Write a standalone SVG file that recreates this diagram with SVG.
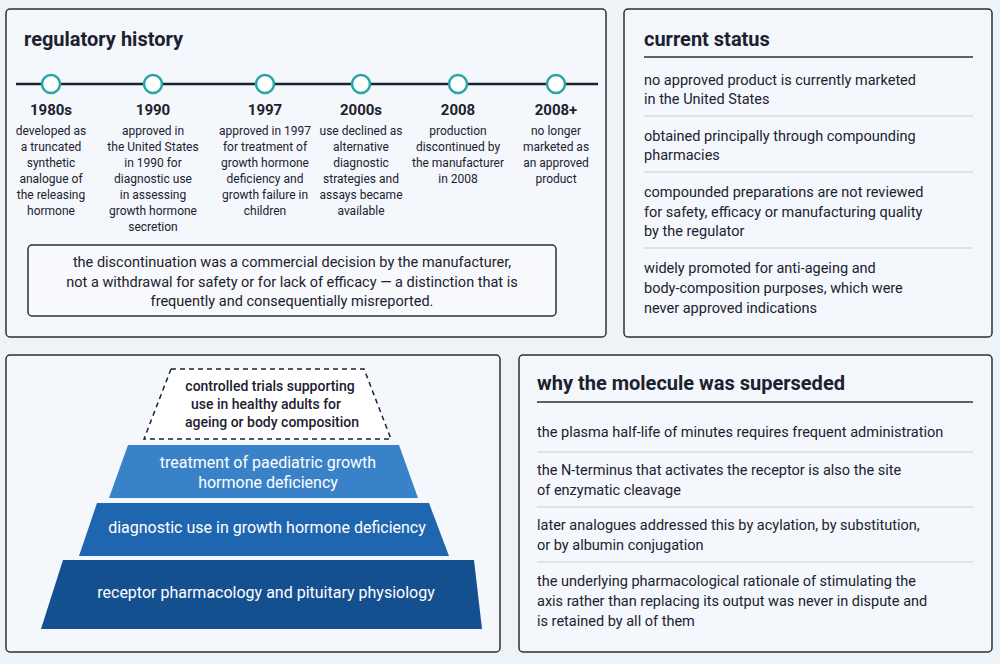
<svg xmlns="http://www.w3.org/2000/svg" width="1000" height="664" viewBox="0 0 1000 664">
<style>
text{font-family:Roboto,"Liberation Sans",sans-serif;fill:#1c2130}
.panel{fill:#f4f7fb;stroke:#2b2f38;stroke-width:1.5}
.h{font-size:20px;font-weight:700}
.yr{font-size:15px;font-weight:700;text-anchor:middle}
.d{font-size:12px;text-anchor:middle}
.b{font-size:14.5px}
.sep{stroke:#c9cfd6;stroke-width:1}
.ul{stroke:#2b2f38;stroke-width:1.5}
.dot{fill:#fff;stroke:#2aa6a6;stroke-width:2.5}
.pt{font-size:16px;text-anchor:middle;fill:#fff}
</style>
<rect width="1000" height="664" fill="#eef3f8"/>
<g id="history">
<rect class="panel" x="6" y="9" width="600" height="328" rx="4"/>
<text class="h" x="24" y="46">regulatory history</text>
<line x1="16" y1="84" x2="598" y2="84" stroke="#1c2130" stroke-width="2.5"/>
<circle class="dot" cx="51" cy="84" r="9"/><circle class="dot" cx="153" cy="84" r="9"/><circle class="dot" cx="265" cy="84" r="9"/><circle class="dot" cx="361" cy="84" r="9"/><circle class="dot" cx="458" cy="84" r="9"/><circle class="dot" cx="556" cy="84" r="9"/>
<text class="yr" x="51" y="115">1980s</text>
<text class="d" x="51" y="135"><tspan x="51">developed as</tspan><tspan x="51" dy="16">a truncated</tspan><tspan x="51" dy="16">synthetic</tspan><tspan x="51" dy="16">analogue of</tspan><tspan x="51" dy="16">the releasing</tspan><tspan x="51" dy="16">hormone</tspan></text>
<text class="yr" x="153" y="115">1990</text>
<text class="d" x="153" y="135"><tspan x="153">approved in</tspan><tspan x="153" dy="16">the United States</tspan><tspan x="153" dy="16">in 1990 for</tspan><tspan x="153" dy="16">diagnostic use</tspan><tspan x="153" dy="16">in assessing</tspan><tspan x="153" dy="16">growth hormone</tspan><tspan x="153" dy="16">secretion</tspan></text>
<text class="yr" x="265" y="115">1997</text>
<text class="d" x="265" y="135"><tspan x="265">approved in 1997</tspan><tspan x="265" dy="16">for treatment of</tspan><tspan x="265" dy="16">growth hormone</tspan><tspan x="265" dy="16">deficiency and</tspan><tspan x="265" dy="16">growth failure in</tspan><tspan x="265" dy="16">children</tspan></text>
<text class="yr" x="361" y="115">2000s</text>
<text class="d" x="361" y="135"><tspan x="361">use declined as</tspan><tspan x="361" dy="16">alternative</tspan><tspan x="361" dy="16">diagnostic</tspan><tspan x="361" dy="16">strategies and</tspan><tspan x="361" dy="16">assays became</tspan><tspan x="361" dy="16">available</tspan></text>
<text class="yr" x="458" y="115">2008</text>
<text class="d" x="458" y="135"><tspan x="458">production</tspan><tspan x="458" dy="16">discontinued by</tspan><tspan x="458" dy="16">the manufacturer</tspan><tspan x="458" dy="16">in 2008</tspan></text>
<text class="yr" x="556" y="115">2008+</text>
<text class="d" x="556" y="135"><tspan x="556">no longer</tspan><tspan x="556" dy="16">marketed as</tspan><tspan x="556" dy="16">an approved</tspan><tspan x="556" dy="16">product</tspan></text>
</g>
<g id="note">
<rect x="28" y="245" width="528" height="71" rx="4" fill="#f7f9fc" stroke="#2b2f38" stroke-width="1.5"/>
<text x="292" y="267" font-size="14.5" text-anchor="middle"><tspan x="292">the discontinuation was a commercial decision by the manufacturer,</tspan><tspan x="292" dy="19.5">not a withdrawal for safety or for lack of efficacy — a distinction that is</tspan><tspan x="292" dy="19.5">frequently and consequentially misreported.</tspan></text>
</g>
<g id="status">
<rect class="panel" x="624" y="9" width="368" height="328" rx="4"/>
<text class="h" x="644" y="46">current status</text>
<line class="ul" x1="644" y1="57" x2="973" y2="57"/>
<text class="b" x="644" y="85">no approved product is currently marketed<tspan x="644" dy="19">in the United States</tspan></text>
<line class="sep" x1="644" y1="116" x2="973" y2="116"/>
<text class="b" x="644" y="141">obtained principally through compounding<tspan x="644" dy="19">pharmacies</tspan></text>
<line class="sep" x1="644" y1="172" x2="973" y2="172"/>
<text class="b" x="644" y="197">compounded preparations are not reviewed<tspan x="644" dy="19.5">for safety, efficacy or manufacturing quality</tspan><tspan x="644" dy="19.5">by the regulator</tspan></text>
<line class="sep" x1="644" y1="248" x2="973" y2="248"/>
<text class="b" x="644" y="273">widely promoted for anti-ageing and<tspan x="644" dy="20">body-composition purposes, which were</tspan><tspan x="644" dy="20">never approved indications</tspan></text>
</g>
<g id="pyramid">
<rect class="panel" x="6" y="355" width="494" height="297" rx="4"/>
<polygon points="171,369 364,369 391,439 144,439" fill="#fff" stroke="#1c2130" stroke-width="1.5" stroke-dasharray="5,4"/>
<text x="270" y="391" font-size="14" font-weight="500" text-anchor="middle"><tspan x="270">controlled trials supporting</tspan><tspan x="266" dy="18">use in healthy adults for</tspan><tspan x="272" dy="18">ageing or body composition</tspan></text>
<polygon points="128,445 399,445 418,498 109,498" fill="#3a82c8"/>
<text class="pt" x="268" y="468" font-size="15.5"><tspan x="268">treatment of paediatric growth</tspan><tspan x="268" dy="20">hormone deficiency</tspan></text>
<polygon points="97,503 429,503 449,556 79,556" fill="#1f66b0"/>
<text class="pt" x="267" y="533">diagnostic use in growth hormone deficiency</text>
<polygon points="63,560 474,560 482,629 41,629" fill="#144f8f"/>
<text class="pt" x="266" y="598" font-size="18">receptor pharmacology and pituitary physiology</text>
</g>
<g id="why">
<rect class="panel" x="519" y="355" width="473" height="297" rx="4"/>
<text class="h" x="537" y="390">why the molecule was superseded</text>
<line class="ul" x1="537" y1="402" x2="973" y2="402"/>
<text class="b" x="537" y="437">the plasma half-life of minutes requires frequent administration</text>
<line class="sep" x1="537" y1="452" x2="973" y2="452"/>
<text class="b" x="537" y="475">the N-terminus that activates the receptor is also the site<tspan x="537" dy="20">of enzymatic cleavage</tspan></text>
<line class="sep" x1="537" y1="507" x2="973" y2="507"/>
<text class="b" x="537" y="530">later analogues addressed this by acylation, by substitution,<tspan x="537" dy="20">or by albumin conjugation</tspan></text>
<line class="sep" x1="537" y1="562" x2="973" y2="562"/>
<text class="b" x="537" y="586">the underlying pharmacological rationale of stimulating the<tspan x="537" dy="20">axis rather than replacing its output was never in dispute and</tspan><tspan x="537" dy="20">is retained by all of them</tspan></text>
</g>
<g id="connectors"></g>
</svg>
